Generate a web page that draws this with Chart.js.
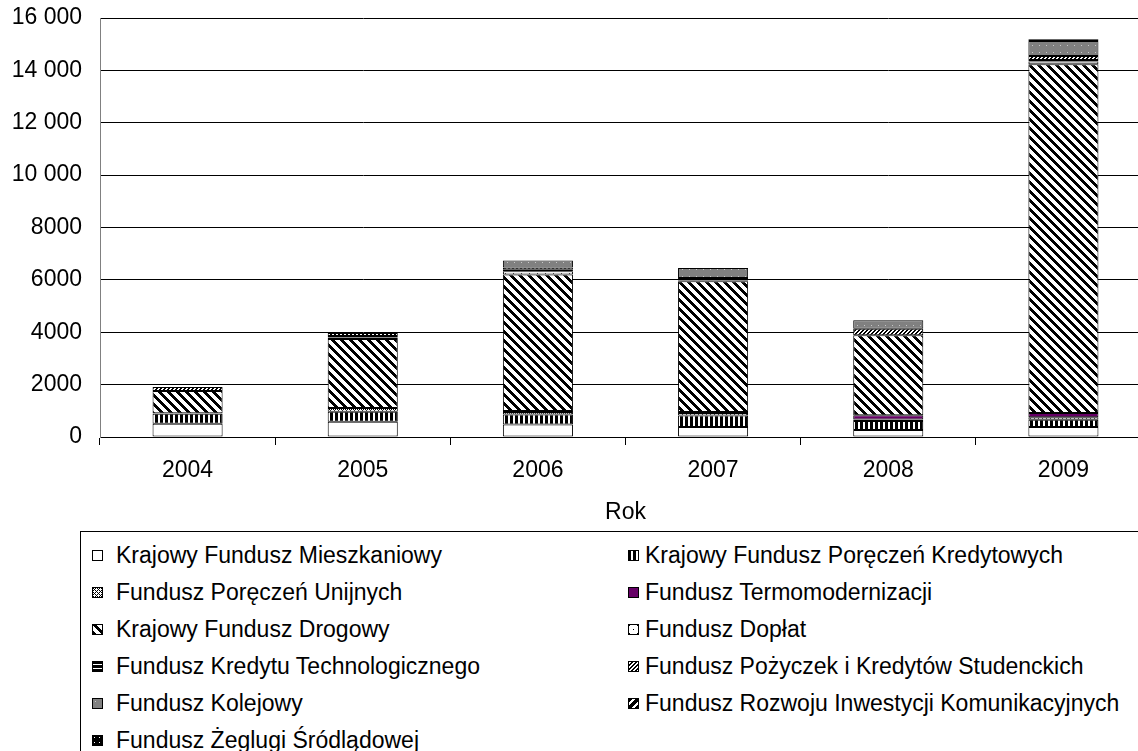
<!DOCTYPE html>
<html lang="pl">
<head>
<meta charset="utf-8">
<title>Fundusze celowe 2004-2009</title>
<script src="https://cdn.jsdelivr.net/npm/chart.js@4.4.1/dist/chart.umd.min.js"></script>
<style>
  html, body { margin: 0; padding: 0; background: #fff; overflow: hidden; }
  #wrap { position: relative; width: 1138px; height: 751px; overflow: hidden; }
  #chart { position: absolute; left: 0; top: 0; }
  #legend {
    position: absolute; left: 80px; top: 531px; width: 1100px; height: 300px;
    border: 1px solid #000; box-sizing: border-box;
  }
  .item {
    position: absolute; height: 28px; line-height: 28px; white-space: nowrap;
    font: 23px "Liberation Sans", Arial, sans-serif; color: #000;
  }
  .item canvas { position: absolute; left: 0; top: 8px; }
  .item span { position: absolute; top: 0; }
</style>
</head>
<body>
<div id="wrap">
  <canvas id="chart" width="1151" height="530"></canvas>
  <div id="legend"></div>
</div>
<script>
(function () {
  'use strict';

  // --- data (mln zł) ---
  const years = ['2004', '2005', '2006', '2007', '2008', '2009'];
  const yTickLabels = ['0', '2000', '4000', '6000', '8000', '10 000', '12 000', '14 000', '16 000'];

  const fundNames = [
    'Krajowy Fundusz Mieszkaniowy',
    'Krajowy Fundusz Poręczeń Kredytowych',
    'Fundusz Poręczeń Unijnych',
    'Fundusz Termomodernizacji',
    'Krajowy Fundusz Drogowy',
    'Fundusz Dopłat',
    'Fundusz Kredytu Technologicznego',
    'Fundusz Pożyczek i Kredytów Studenckich',
    'Fundusz Kolejowy',
    'Fundusz Rozwoju Inwestycji Komunikacyjnych',
    'Fundusz Żeglugi Śródlądowej',
  ];

  const mieszkaniowy = [510, 580, 480, 380, 270, 380];
  const poreczenKredytowych = [380, 380, 380, 445, 340, 280];
  const poreczenUnijnych = [20, 150, 90, 90, 60, 90];
  const termomodernizacji = [0, 0, 40, 40, 165, 165];
  const drogowy = [850, 2630, 5220, 4990, 3050, 13320];
  const doplat = [0, 60, 120, 30, 0, 100];
  const kredytuTechnologicznego = [0, 60, 60, 20, 0, 60];
  const pozyczekStudenckich = [150, 110, 80, 80, 250, 150];
  const kolejowy = [0, 0, 270, 380, 320, 580];
  const rozwojuKomunikacyjnych = [0, 0, 0, 0, 0, 40];
  const zeglugi = [0, 0, 0, 0, 0, 30];

  const seriesValues = [
    mieszkaniowy, poreczenKredytowych, poreczenUnijnych, termomodernizacji, drogowy,
    doplat, kredytuTechnologicznego, pozyczekStudenckich, kolejowy, rozwojuKomunikacyjnych, zeglugi,
  ];

  // --- fill patterns (Excel-style hatches) ---
  const BLACK = [0, 0, 0];
  const WHITE = [255, 255, 255];

  const canvas = document.getElementById('chart');
  const ctx = canvas.getContext('2d');

  function tile(size, paint) {
    const c = document.createElement('canvas');
    c.width = size;
    c.height = size;
    const g = c.getContext('2d');
    const img = g.createImageData(size, size);
    for (let y = 0; y < size; y++) {
      for (let x = 0; x < size; x++) {
        const rgb = paint(x, y);
        const i = (y * size + x) * 4;
        img.data[i] = rgb[0];
        img.data[i + 1] = rgb[1];
        img.data[i + 2] = rgb[2];
        img.data[i + 3] = 255;
      }
    }
    g.putImageData(img, 0, 0);
    return ctx.createPattern(c, 'repeat');
  }

  const fills = [
    '#ffffff',
    tile(5, (x) => (x < 3 ? BLACK : WHITE)),
    tile(4, (x, y) => ((x + y) % 4 === 0 || (x - y + 4) % 4 === 0 ? BLACK : WHITE)),
    '#660066',
    tile(9, (x, y) => ((x - y + 9) % 9 < 4 ? BLACK : WHITE)),
    tile(8, (x, y) => ((x === 1 && y === 1) || (x === 5 && y === 5) ? BLACK : WHITE)),
    tile(4, (x, y) => (y === 3 ? WHITE : BLACK)),
    tile(4, (x, y) => ((x + y) % 4 < 2 ? BLACK : WHITE)),
    tile(7, (x, y) => (x === 3 && y === 3 ? [200, 200, 200] : [128, 128, 128])),
    tile(8, (x, y) => ((x + y) % 8 < 5 ? BLACK : WHITE)),
    tile(5, (x, y) => (x === 2 && y === 2 ? WHITE : BLACK)),
  ];

  const FONT = { family: '"Liberation Sans", Arial, sans-serif', size: 23 };
  Chart.defaults.font = Object.assign({}, Chart.defaults.font, FONT);
  Chart.defaults.color = '#000';

  new Chart(ctx, {
    type: 'bar',
    data: {
      labels: years,
      datasets: fundNames.map((name, i) => ({
        label: name,
        data: seriesValues[i],
        backgroundColor: fills[i],
        borderColor: '#000',
        borderWidth: 1,
        borderSkipped: false,
        categoryPercentage: 1,
        barPercentage: 0.4,
      })),
    },
    options: {
      responsive: false,
      animation: false,
      layout: { padding: { top: 18, right: 0, left: 0, bottom: 0 } },
      plugins: { legend: { display: false }, tooltip: { enabled: false } },
      scales: {
        x: {
          stacked: true,
          grid: { drawOnChartArea: false, drawTicks: true, tickLength: 8, color: '#000' },
          border: { color: '#000' },
          ticks: { padding: 12, maxRotation: 0 },
          title: { display: true, text: 'Rok', padding: { top: 4, bottom: 4 } },
          afterFit: (s) => { s.height = 93; },
        },
        y: {
          stacked: true,
          min: 0,
          max: 16000,
          ticks: {
            stepSize: 2000,
            padding: 18,
            callback: (v, i) => yTickLabels[i],
          },
          grid: { color: '#000', drawTicks: false },
          border: { color: '#808080' },
          // fixed axis box so the plot area lines up with the reference
          afterFit: (s) => {
            s.width = 100;
            s.paddingTop = 0;
            s.paddingBottom = 0;
          },
        },
      },
    },
  });

  // --- legend: two columns, Excel order (row-wise) ---
  const legend = document.getElementById('legend');
  const colSwatchX = [92, 628];
  const colTextX = [116, 645];
  const rowTop = 542;
  const rowStep = 37;
  const SW = 11;

  fundNames.forEach((name, i) => {
    const col = i % 2;
    const row = Math.floor(i / 2);
    const item = document.createElement('div');
    item.className = 'item';
    item.style.left = (colSwatchX[col] - 81) + 'px';
    item.style.top = (rowTop + row * rowStep - 532) + 'px';
    const sw = document.createElement('canvas');
    sw.width = SW;
    sw.height = SW;
    const g = sw.getContext('2d');
    g.fillStyle = fills[i];
    g.fillRect(0, 0, SW, SW);
    g.strokeStyle = '#000';
    g.lineWidth = 1;
    g.strokeRect(0.5, 0.5, SW - 1, SW - 1);
    const txt = document.createElement('span');
    txt.style.left = (colTextX[col] - colSwatchX[col]) + 'px';
    txt.textContent = name;
    item.appendChild(sw);
    item.appendChild(txt);
    legend.appendChild(item);
  });
})();
</script>
</body>
</html>
